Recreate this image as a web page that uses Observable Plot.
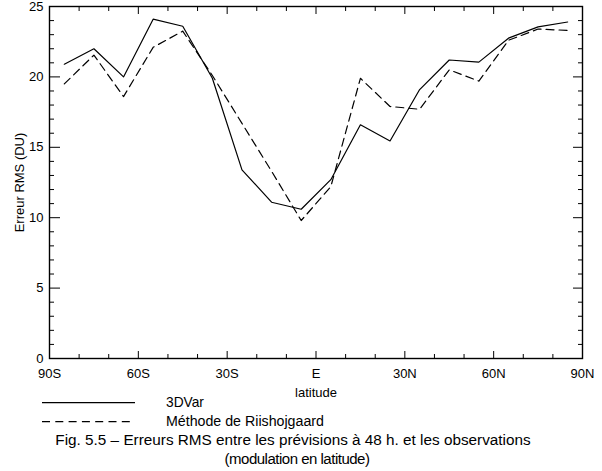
<!DOCTYPE html>
<html><head><meta charset="utf-8">
<script src="https://cdn.jsdelivr.net/npm/d3@7"></script>
<script src="https://cdn.jsdelivr.net/npm/@observablehq/plot@0.6"></script>
<style>
body{margin:0;background:#fff;font-family:"Liberation Sans",Arial,sans-serif;}
#wrap{position:relative;width:602px;height:471px;overflow:hidden;background:#fff}
#wrap svg.plot{position:absolute;left:0;top:0}
.t{position:absolute;white-space:nowrap;color:#000;line-height:1;transform-origin:0 50%}
</style></head><body><div id="wrap"></div>
<script>
// ---- data ----
const latitudes = [-85,-75,-65,-55,-45,-35,-25,-15,-5,5,15,25,35,45,55,65,75,85];
const rms3DVar = [20.9,22.0,20.0,24.1,23.6,19.9,13.4,11.1,10.6,12.7,16.6,15.45,19.1,21.2,21.05,22.75,23.55,23.9];
const rmsRiishojgaard = [19.5,21.55,18.6,22.1,23.25,20.1,16.7,13.3,9.8,12.2,19.9,17.9,17.7,20.5,19.7,22.6,23.4,23.3];
const seriesNames = ["3DVar","Méthode de Riishojgaard"];
const xMajorTicks = [-90,-60,-30,0,30,60,90];
const xMajorLabels = ["90S","60S","30S","E","30N","60N","90N"];
const xMinorTicks = [-80,-70,-50,-40,-20,-10,10,20,40,50,70,80];
const yMajorTicks = [0,5,10,15,20,25];
const yMinorTicks = [1,2,3,4,6,7,8,9,11,12,13,14,16,17,18,19,21,22,23,24];
const xLabel = "latitude";
const yLabel = "Erreur RMS (DU)";
const captionLines = ["Fig. 5.5 \u2013 Erreurs RMS entre les prévisions à 48 h. et les observations","(modulation en latitude)"];

const rows3D = latitudes.map((lat,i)=>({lat, v: rms3DVar[i]}));
const rowsR = latitudes.map((lat,i)=>({lat, v: rmsRiishojgaard[i]}));

const chart = Plot.plot({
  width: 602, height: 402,
  marginLeft: 49, marginRight: 20, marginTop: 6, marginBottom: 44,
  x: {domain: [-90, 90]},
  y: {domain: [0, 25]},
  style: {fontFamily: '"Liberation Sans", Arial, sans-serif', fontSize: "13px", color: "#000", background: "#fff"},
  marks: [
    // bottom axis (inward ticks) with labels
    Plot.axisX(xMajorTicks, {anchor: "bottom", tickSize: 7, dy: -7, tickPadding: 10,
      tickFormat: d => xMajorLabels[xMajorTicks.indexOf(d)], fontSize: 13,
      label: xLabel, labelAnchor: "center", labelArrow: "none", labelOffset: 38}),
    Plot.axisX(xMinorTicks, {anchor: "bottom", tickSize: 4, dy: -4, fill: "none"}),
    Plot.axisX(xMajorTicks, {anchor: "top", tickSize: 7, dy: 7, fill: "none"}),
    Plot.axisX(xMinorTicks, {anchor: "top", tickSize: 4, dy: 4, fill: "none"}),
    // left axis
    Plot.axisY(yMajorTicks, {anchor: "left", tickSize: 11, dx: 11, tickPadding: 6, fontSize: 13,
      label: yLabel, labelAnchor: "center", labelArrow: "none", labelOffset: 35}),
    Plot.axisY(yMinorTicks, {anchor: "left", tickSize: 5, dx: 5, fill: "none"}),
    Plot.axisY(yMajorTicks, {anchor: "right", tickSize: 10, dx: -10, fill: "none"}),
    Plot.axisY(yMinorTicks, {anchor: "right", tickSize: 5, dx: -5, fill: "none"}),
    Plot.frame({stroke: "#000", strokeWidth: 1.4}),
    Plot.lineY(rows3D, {x: "lat", y: "v", stroke: "#000", strokeWidth: 1.2}),
    Plot.lineY(rowsR, {x: "lat", y: "v", stroke: "#000", strokeWidth: 1.2, strokeDasharray: "8,5"})
  ]
});
chart.classList.add("plot");
const wrap = document.getElementById("wrap");
wrap.appendChild(chart);

// ---- legend & caption below the chart ----
function addText(str, left, cy, width, size, center, spacing, minS) {
  const el = document.createElement("div");
  el.className = "t";
  el.textContent = str;
  el.style.fontSize = size + "px";
  if (spacing) el.style.letterSpacing = spacing + "px";
  wrap.appendChild(el);
  const w = el.getBoundingClientRect().width;
  const s = width / w;
  el.style.fontSize = (size * Math.min(Math.max(s, minS || 0.92), 1.1)) + "px";
  const w2 = el.getBoundingClientRect().width;
  const h2 = el.getBoundingClientRect().height;
  el.style.left = (center ? left - w2 / 2 : left) + "px";
  el.style.top = (cy - h2 / 2) + "px";
  return el;
}
const ns = "http://www.w3.org/2000/svg";
const leg = document.createElementNS(ns, "svg");
leg.setAttribute("width", 602); leg.setAttribute("height", 69);
leg.style.position = "absolute"; leg.style.left = "0"; leg.style.top = "402px";
function legLine(y, dash) {
  const l = document.createElementNS(ns, "line");
  l.setAttribute("x1", 42); l.setAttribute("x2", 135);
  l.setAttribute("y1", y); l.setAttribute("y2", y);
  l.setAttribute("stroke", "#000"); l.setAttribute("stroke-width", 1.2);
  if (dash) l.setAttribute("stroke-dasharray", dash);
  leg.appendChild(l);
}
legLine(0.7, null);
legLine(19.7, "8,5.3");
wrap.appendChild(leg);
addText(seriesNames[0], 166, 403, 38, 14, false);
addText(seriesNames[1], 166, 421, 158, 14, false);
addText(captionLines[0], 293, 440, 476, 15, true);
addText(captionLines[1], 297, 459, 145, 15, true, -0.5, 0.98);
</script></body></html>
